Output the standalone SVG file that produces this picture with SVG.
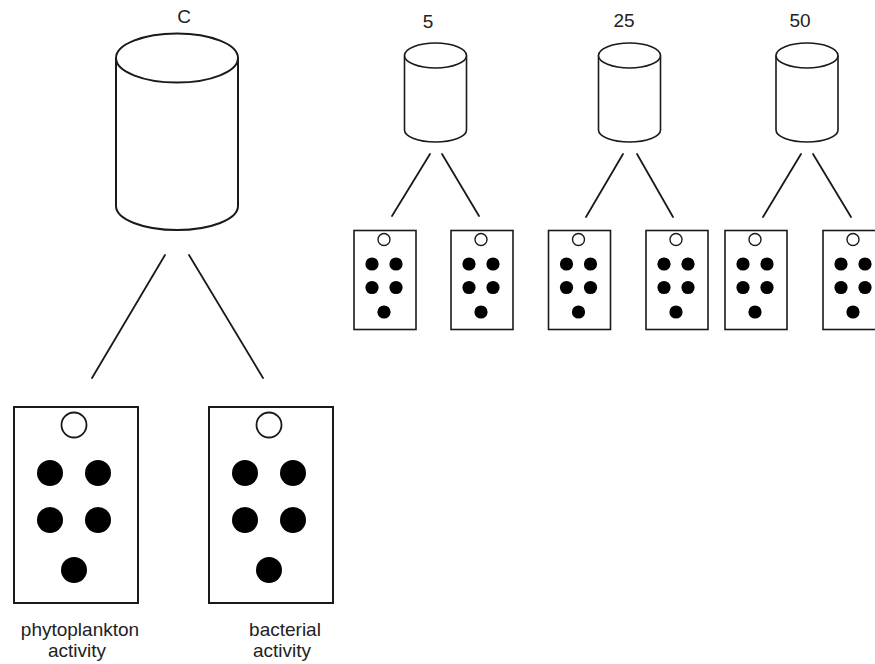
<svg xmlns="http://www.w3.org/2000/svg" xmlns:xlink="http://www.w3.org/1999/xlink" width="875" height="664" viewBox="0 0 875 664">
  <style>
    .outline { fill: #fff; stroke: #1a1a1a; }
    .big { stroke-width: 2; }
    .small { stroke-width: 1.6; }
    .well-open { fill: #fff; stroke: #1a1a1a; }
    .well-full { fill: #000; stroke: none; }
    .link { stroke: #1a1a1a; stroke-width: 1.8; fill: none; stroke-linecap: round; }
    .label { font-family: "Liberation Sans", Arial, sans-serif; font-size: 19px; fill: #222; text-anchor: middle; }
  </style>
  <defs>
    <!-- large culture plate: 124 x 196, one empty well and five filled wells -->
    <g id="plate-large">
      <rect class="outline big" x="0" y="0" width="124" height="196"/>
      <circle class="well-open" cx="60" cy="18" r="12.5" stroke-width="1.8"/>
      <circle class="well-full" cx="36" cy="66" r="13"/>
      <circle class="well-full" cx="84" cy="66" r="13"/>
      <circle class="well-full" cx="36" cy="113" r="13"/>
      <circle class="well-full" cx="84" cy="113" r="13"/>
      <circle class="well-full" cx="60" cy="163" r="13"/>
    </g>
    <!-- small culture plate at half scale: 62 x 99 -->
    <g id="plate-small">
      <rect class="outline small" x="0" y="0" width="62" height="99"/>
      <circle class="well-open" cx="30" cy="9" r="6" stroke-width="1.4"/>
      <circle class="well-full" cx="18" cy="33.5" r="6.6"/>
      <circle class="well-full" cx="42" cy="33.5" r="6.6"/>
      <circle class="well-full" cx="18" cy="57" r="6.6"/>
      <circle class="well-full" cx="42" cy="57" r="6.6"/>
      <circle class="well-full" cx="30" cy="81.5" r="6.6"/>
    </g>
  </defs>

  <!-- connectors from each container to its pair of plates -->
  <g id="connectors">
    <line class="link" x1="165" y1="255" x2="92" y2="378"/>
    <line class="link" x1="189" y1="255" x2="263" y2="378"/>
    <line class="link" x1="430" y1="154" x2="392" y2="216" stroke-width="1.5"/>
    <line class="link" x1="442" y1="154" x2="479" y2="216" stroke-width="1.5"/>
    <line class="link" x1="623" y1="154" x2="586" y2="217" stroke-width="1.5"/>
    <line class="link" x1="637" y1="154" x2="673" y2="217" stroke-width="1.5"/>
    <line class="link" x1="801" y1="154" x2="763" y2="217" stroke-width="1.5"/>
    <line class="link" x1="813" y1="154" x2="851" y2="217" stroke-width="1.5"/>
  </g>

  <!-- control container -->
  <g id="container-c">
    <path class="outline big" d="M116,58 L116,206 A61,24 0 0 0 238,206 L238,58"/>
    <ellipse class="outline big" cx="177" cy="58" rx="61" ry="24.5"/>
    <text class="label" x="184" y="23">C</text>
  </g>

  <!-- treatment containers -->
  <g id="container-5">
    <path class="outline small" d="M404.5,55.5 L404.5,130 A31,12 0 0 0 466.5,130 L466.5,55.5"/>
    <ellipse class="outline small" cx="435.5" cy="55.5" rx="31" ry="12.5"/>
    <text class="label" x="428" y="28">5</text>
  </g>
  <g id="container-25">
    <path class="outline small" d="M598.5,55.5 L598.5,130 A31,12 0 0 0 660.5,130 L660.5,55.5"/>
    <ellipse class="outline small" cx="629.5" cy="55.5" rx="31" ry="12.5"/>
    <text class="label" x="624" y="27">25</text>
  </g>
  <g id="container-50">
    <path class="outline small" d="M776,55.5 L776,130 A31,12 0 0 0 838,130 L838,55.5"/>
    <ellipse class="outline small" cx="807" cy="55.5" rx="31" ry="12.5"/>
    <text class="label" x="800" y="27">50</text>
  </g>

  <!-- plates for the control container -->
  <g id="plate-phytoplankton">
    <use xlink:href="#plate-large" transform="translate(14,407)"/>
    <text class="label" x="80" y="636">phytoplankton</text>
    <text class="label" x="77" y="657">activity</text>
  </g>
  <g id="plate-bacterial">
    <use xlink:href="#plate-large" transform="translate(209,407)"/>
    <text class="label" x="285" y="636">bacterial</text>
    <text class="label" x="282" y="657">activity</text>
  </g>

  <!-- plates for the treatment containers -->
  <g id="plate-5a"><use xlink:href="#plate-small" transform="translate(354,230.5)"/></g>
  <g id="plate-5b"><use xlink:href="#plate-small" transform="translate(451,230.5)"/></g>
  <g id="plate-25a"><use xlink:href="#plate-small" transform="translate(548.5,230.5)"/></g>
  <g id="plate-25b"><use xlink:href="#plate-small" transform="translate(646,230.5)"/></g>
  <g id="plate-50a"><use xlink:href="#plate-small" transform="translate(725,230.5)"/></g>
  <g id="plate-50b"><use xlink:href="#plate-small" transform="translate(823,230.5)"/></g>
</svg>
